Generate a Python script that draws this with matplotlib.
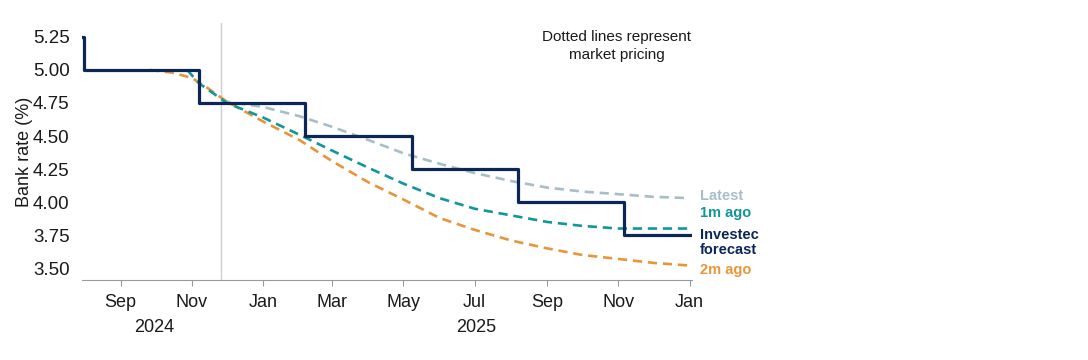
import matplotlib
matplotlib.use("Agg")
import matplotlib.pyplot as plt
import matplotlib.dates as mdates
import matplotlib.transforms as mtransforms
import pandas as pd

plt.rcParams['font.family'] = ['Liberation Sans Narrow', 'Liberation Sans', 'DejaVu Sans']

# Investec forecast (step line)
inv_dates = ["2024-07-31", "2024-08-01", "2024-11-07", "2025-02-06", "2025-05-08",
             "2025-08-07", "2025-11-06", "2026-01-01"]
inv_vals = [5.25, 5.00, 4.75, 4.50, 4.25, 4.00, 3.75, 3.75]

# Market pricing curves
latest_dates = ["2024-11-26", "2024-12-01", "2025-01-01", "2025-02-01", "2025-03-01", "2025-04-01",
                "2025-05-01", "2025-06-01", "2025-07-01", "2025-08-01", "2025-09-01",
                "2025-10-01", "2025-11-01", "2025-12-01", "2026-01-01"]
latest_vals = [4.77, 4.76, 4.72, 4.65, 4.57, 4.47, 4.37, 4.29, 4.22, 4.16, 4.11,
               4.08, 4.06, 4.04, 4.03]

m1_dates = ["2024-10-28", "2024-11-07", "2024-12-01", "2025-01-01", "2025-02-01", "2025-03-01",
            "2025-04-01", "2025-05-01", "2025-06-01", "2025-07-01", "2025-08-01",
            "2025-09-01", "2025-10-01", "2025-11-01", "2025-12-01", "2026-01-01"]
m1_vals = [5.00, 4.90, 4.75, 4.64, 4.51, 4.39, 4.26, 4.14, 4.03, 3.95, 3.90,
           3.85, 3.82, 3.80, 3.80, 3.80]

m2_dates = ["2024-09-26", "2024-10-15", "2024-11-01", "2024-11-15", "2024-12-01", "2025-01-01",
            "2025-02-01", "2025-03-01", "2025-04-01", "2025-05-01", "2025-06-01",
            "2025-07-01", "2025-08-01", "2025-09-01", "2025-10-01", "2025-11-01",
            "2025-12-01", "2026-01-01"]
m2_vals = [5.00, 4.98, 4.94, 4.86, 4.76, 4.61, 4.47, 4.31, 4.15, 4.02, 3.88,
           3.79, 3.71, 3.65, 3.60, 3.57, 3.54, 3.52]

navy = "#0b2657"
teal = "#11979a"
orange = "#e8953a"
light = "#a8bdc8"
txt = "#1a1a1a"

fig = plt.figure(figsize=(10.88, 3.6), dpi=100)
ax = fig.add_axes([0.0754, 0.222, 0.5606, 0.714])

dash = (3.5, 2.2)
ax.plot(pd.to_datetime(latest_dates), latest_vals, color=light, lw=1.9, dashes=dash, zorder=2)
ax.plot(pd.to_datetime(m2_dates), m2_vals, color=orange, lw=1.9, dashes=dash, zorder=3)
ax.plot(pd.to_datetime(m1_dates), m1_vals, color=teal, lw=1.9, dashes=dash, zorder=4)
ax.step(pd.to_datetime(inv_dates), inv_vals, where="post", color=navy, lw=2.3, zorder=5)

ax.axvline(pd.Timestamp("2024-11-26"), color="#cfcfcf", lw=1, zorder=1)

ax.set_xlim(pd.Timestamp("2024-07-30"), pd.Timestamp("2026-01-03"))
ax.set_ylim(3.41, 5.355)
ax.set_yticks([3.50, 3.75, 4.00, 4.25, 4.50, 4.75, 5.00, 5.25])
ax.yaxis.set_major_formatter(matplotlib.ticker.FormatStrFormatter("%.2f"))
ax.xaxis.set_major_locator(mdates.MonthLocator(bymonth=[1, 3, 5, 7, 9, 11]))
ax.xaxis.set_major_formatter(mdates.DateFormatter("%b"))

for s in ["top", "right", "left"]:
    ax.spines[s].set_visible(False)
ax.spines["bottom"].set_color("#9a9a9a")
ax.tick_params(axis="y", length=0, labelsize=13.5, pad=9, colors=txt)
ax.tick_params(axis="x", length=4, color="#9a9a9a", labelsize=13, pad=6, labelcolor=txt)
ax.set_ylabel("Bank rate (%)", fontsize=13, color=txt)
ax.yaxis.set_label_coords(-0.081, 0.5)

# year labels under month labels
trans = mtransforms.blended_transform_factory(ax.transData, ax.transAxes)
ax.text(pd.Timestamp("2024-09-30"), -0.152, "2024", transform=trans, ha="center", va="top",
        fontsize=13, color=txt)
ax.text(pd.Timestamp("2025-07-02"), -0.152, "2025", transform=trans, ha="center", va="top",
        fontsize=13, color=txt)

# series labels at right
lab_x = pd.Timestamp("2026-01-10")
lab_kw = dict(fontsize=10.5, fontweight="bold", ha="left", va="center", clip_on=False)
ax.text(lab_x, 4.05, "Latest", color=light, **lab_kw)
ax.text(lab_x, 3.915, "1m ago", color=teal, **lab_kw)
ax.text(lab_x, 3.695, "Investec\nforecast", color=navy, linespacing=1.15, **lab_kw)
ax.text(lab_x, 3.49, "2m ago", color=orange, **lab_kw)

fig.text(617 / 1088, 1 - 46 / 360, "Dotted lines represent\nmarket pricing", ha="center",
         va="center", fontsize=11, color=txt, linespacing=1.45)

fig.savefig("out.png", dpi=100)
